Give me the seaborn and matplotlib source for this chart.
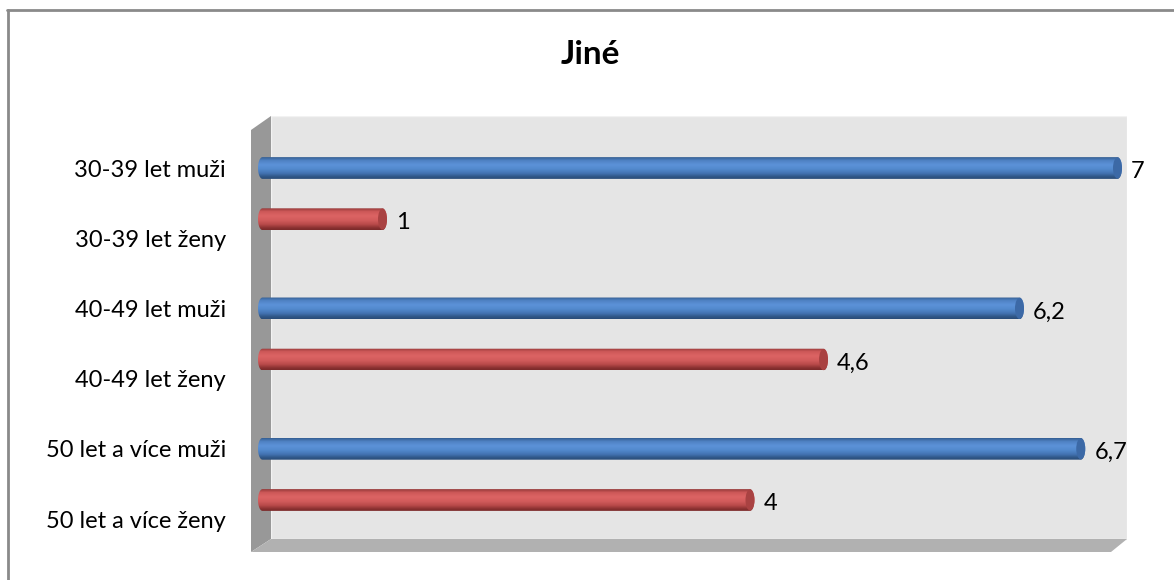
import numpy as np
import pandas as pd
import matplotlib
matplotlib.use("Agg")
import matplotlib.pyplot as plt
from matplotlib.patches import Polygon, Ellipse, Rectangle
from matplotlib.colors import LinearSegmentedColormap, to_rgb
import seaborn as sns

# ---- data ----
categories = ["30-39 let muži", "30-39 let ženy", "40-49 let muži",
              "40-49 let ženy", "50 let a více muži", "50 let a více ženy"]
values = [7, 1, 6.2, 4.6, 6.7, 4]
sex = ["muži", "ženy", "muži", "ženy", "muži", "ženy"]
title = "Jiné"

sns.set_theme(style="white")
plt.rcParams["font.family"] = ["Lato", "DejaVu Sans"]

W, H = 1174, 580
fig = plt.figure(figsize=(W / 100, H / 100), dpi=100)

# plot box (pixel geometry of the 3-D frame)
px_l, px_r, px_t, px_b = 251, 1127, 116, 552
ax = fig.add_axes([px_l / W, 1 - px_b / H, (px_r - px_l) / W, (px_b - px_t) / H])

df = pd.DataFrame({"kategorie": categories, "hodnota": values, "pohlavi": sex})
palette = {"muži": "#4f81bd", "ženy": "#c0504d"}
sns.barplot(data=df, x="hodnota", y="kategorie", hue="pohlavi", dodge=False,
            palette=palette, width=0.31, legend=False, ax=ax, orient="h")
bars = [p for p in ax.patches if isinstance(p, Rectangle) and p.get_width() > 0]

x0_px = 264.5
x_per_px = 1 / 122.5
xmin = -(x0_px - px_l) * x_per_px
xmax = (px_r - x0_px) * x_per_px
y_per_px = 1 / 70.2
ytop = (px_t - 168) * y_per_px
ybot = (px_b - 168) * y_per_px

# ---- 3-D frame: back wall, left wall, floor ----
def fx(px):
    return (px - px_l) / (px_r - px_l)

def fy(py):
    return (px_b - py) / (px_b - px_t)

wall = Polygon([(fx(271), fy(539)), (fx(1127), fy(539)), (fx(1127), fy(116)), (fx(271), fy(116))],
               closed=True, transform=ax.transAxes, facecolor="#e5e5e5",
               edgecolor="#f2f2f2", lw=1, zorder=0)
left_wall = Polygon([(fx(251), fy(130)), (fx(271), fy(116)), (fx(271), fy(539)), (fx(251), fy(552))],
                    closed=True, transform=ax.transAxes, facecolor="#989898",
                    edgecolor="none", zorder=0.5)
floor = Polygon([(fx(251), fy(552)), (fx(271), fy(539)), (fx(1127), fy(539)), (fx(1111), fy(552))],
                closed=True, transform=ax.transAxes, facecolor="#b1b1b1",
                edgecolor="none", zorder=0.5)
for p in (wall, left_wall, floor):
    ax.add_patch(p)

# ---- cylinder styling of the seaborn bars ----
shades = {
    "muži": ["#355f93", "#4f82c4", "#5c92d8", "#5289cd", "#4272b1", "#2f5686", "#2a4c78"],
    "ženy": ["#953838", "#cd5858", "#dc6464", "#d25c5c", "#b84a4a", "#8c3232", "#7a2a2a"],
    "cap": {"muži": "#3c69a6", "ženy": "#a94242"},
}
stops = [0.0, 0.15, 0.35, 0.55, 0.75, 0.9, 1.0]

rx = 4.5 * x_per_px          # horizontal radius of the rounded ends
back = 6.5 * x_per_px        # cylinder base sits slightly behind the zero line
shift_women = -19 * y_per_px

for bar in bars:
    yc = bar.get_y() + bar.get_height() / 2
    idx = int(round(yc))
    s = sex[idx]
    if s == "ženy":
        bar.set_y(bar.get_y() + shift_women)
    bar.set_visible(False)
    x0, y0, w, h = bar.get_x(), bar.get_y(), bar.get_width(), bar.get_height()
    xs, xe = x0 - back, x0 + w
    yc = y0 + h / 2
    ry = h / 2

    # outline of the cylinder body: rounded on both ends
    t = np.linspace(np.pi / 2, 3 * np.pi / 2, 40)
    left = np.column_stack([xs + rx + rx * np.cos(t), yc - ry * np.sin(t)])
    t2 = np.linspace(-np.pi / 2, np.pi / 2, 40)
    right = np.column_stack([xe - rx + rx * np.cos(t2), yc - ry * np.sin(t2)])
    outline = np.vstack([left, right])
    clip = Polygon(outline, closed=True, transform=ax.transData, facecolor="none", edgecolor="none")
    ax.add_patch(clip)

    cmap = LinearSegmentedColormap.from_list("cyl", list(zip(stops, [to_rgb(c) for c in shades[s]])))
    grad = np.linspace(0, 1, 64).reshape(-1, 1)
    im = ax.imshow(grad, cmap=cmap, aspect="auto", interpolation="bilinear",
                   extent=[xs, xe, y0 + h, y0], origin="upper", zorder=2)
    im.set_clip_path(clip)

    # front face of the cylinder
    cap = Ellipse((xe - rx, yc), 2 * rx, h * 0.97, facecolor=shades["cap"][s],
                  edgecolor="none", zorder=3)
    ax.add_patch(cap)

    lab = f"{values[idx]:g}".replace(".", ",")
    ax.annotate(lab, xy=(xe, yc), xytext=(6.5, -2.5), textcoords="offset points",
                ha="left", va="center", fontsize=17, color="#000000", zorder=4)

ax.set_xlim(xmin, xmax)
ax.set_ylim(ybot, ytop)
ax.set_xlabel("")
ax.set_ylabel("")
ax.set_xticks([])
ax.set_yticks(range(len(categories)))
ax.set_yticklabels(categories, fontsize=17, color="#000000")
ax.tick_params(axis="y", length=0, pad=18)
for sp in ax.spines.values():
    sp.set_visible(False)
ax.set_facecolor("none")

fig.text(590 / W, 1 - 55 / H, title, ha="center", va="center",
         fontsize=24, fontweight="bold", color="#000000")

# chart area border (top and left edges)
fig.add_artist(plt.Line2D([7.5 / W, 7.5 / W], [0, 1 - 9.5 / H], transform=fig.transFigure,
                          color="#8a8a8a", lw=2))
fig.add_artist(plt.Line2D([6.5 / W, 1], [1 - 9.5 / H, 1 - 9.5 / H], transform=fig.transFigure,
                          color="#8a8a8a", lw=2))

fig.savefig("out.png", dpi=100, facecolor="white")
